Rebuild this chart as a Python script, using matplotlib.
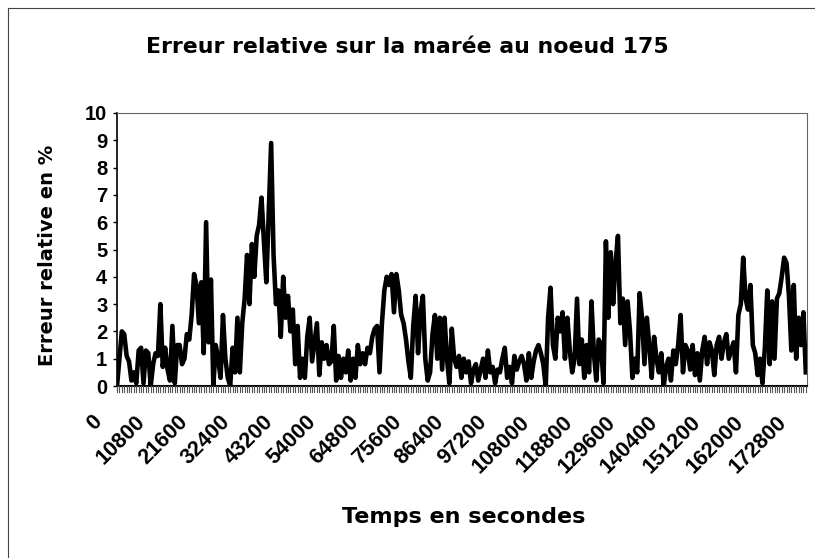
import numpy as np
import matplotlib
matplotlib.use("Agg")
from matplotlib import pyplot as plt
from matplotlib.lines import Line2D
import matplotlib.transforms as mtrans

# relative error (%) on the tide at node 175
erreur = [
    0.0, 1.0, 2.0, 1.9, 1.1,
    0.9, 0.2, 0.5, 0.1, 1.3,
    1.4, 0.1, 1.3, 1.2, 0.0,
    0.8, 1.2, 1.1, 3.0, 0.7,
    1.4, 0.6, 0.2, 2.2, 0.1,
    1.5, 1.5, 0.8, 1.0, 1.9,
    1.7, 2.6, 4.1, 3.7, 2.3,
    3.8, 1.2, 6.0, 1.6, 3.9,
    0.0, 1.5, 1.0, 0.3, 2.6,
    1.0, 0.3, 0.0, 1.4, 0.5,
    2.5, 0.5, 2.3, 3.2, 4.8,
    3.0, 5.2, 4.0, 5.5, 5.9,
    6.9, 5.3, 3.8, 6.4, 8.9,
    4.8, 3.0, 3.5, 1.8, 4.0,
    2.5, 3.3, 2.0, 2.8, 0.8,
    2.2, 0.3, 1.0, 0.3, 1.8,
    2.5, 0.9, 1.6, 2.3, 0.4,
    1.6, 1.0, 1.5, 0.8, 0.9,
    2.2, 0.2, 1.1, 0.3, 1.0,
    0.5, 1.3, 0.2, 1.0, 0.3,
    1.5, 0.8, 1.2, 0.8, 1.4,
    1.2, 1.8, 2.1, 2.2, 0.5,
    2.3, 3.5, 4.0, 3.7, 4.1,
    2.7, 4.1, 3.5, 2.6, 2.3,
    1.7, 0.9, 0.3, 2.2, 3.3,
    1.2, 2.7, 3.3, 1.0, 0.2,
    0.5, 1.9, 2.6, 1.0, 2.5,
    0.6, 2.5, 1.0, 0.1, 2.1,
    1.0, 0.7, 1.1, 0.3, 1.0,
    0.5, 0.9, 0.1, 0.6, 0.8,
    0.2, 0.6, 1.0, 0.3, 1.3,
    0.5, 0.7, 0.1, 0.6, 0.5,
    1.0, 1.4, 0.3, 0.7, 0.1,
    1.1, 0.6, 0.9, 1.1, 0.8,
    0.2, 1.2, 0.3, 0.9, 1.3,
    1.5, 1.2, 0.8, 0.0, 2.5,
    3.6, 1.5, 1.0, 2.5, 2.0,
    2.7, 1.0, 2.5, 1.3, 0.5,
    1.0, 3.2, 0.8, 1.7, 0.3,
    1.5, 0.5, 3.1, 1.2, 0.2,
    1.7, 1.5, 0.1, 5.3, 2.5,
    4.9, 3.0, 4.5, 5.5, 2.3,
    3.2, 1.5, 3.1, 2.0, 0.3,
    1.0, 0.5, 3.4, 2.5, 0.8,
    2.5, 1.5, 0.3, 1.8, 1.0,
    0.5, 1.2, 0.0, 0.7, 1.0,
    0.2, 1.3, 0.8, 1.5, 2.6,
    0.5, 1.5, 1.3, 0.6, 1.5,
    0.4, 1.2, 0.2, 1.3, 1.8,
    0.8, 1.6, 1.3, 0.4, 1.5,
    1.8, 1.0, 1.6, 1.9, 1.0,
    1.3, 1.6, 0.5, 2.6, 3.0,
    4.7, 3.2, 2.8, 3.7, 1.5,
    1.2, 0.4, 1.0, 0.1, 1.4,
    3.5, 0.8, 3.1, 1.0, 3.2,
    3.4, 4.0, 4.7, 4.5, 3.3,
    1.3, 3.7, 1.0, 2.5, 1.5,
    2.7, 0.5,
]
t_fin = 174000          # time of last sample (s)
ticks_temps = list(range(0, 172801, 10800))
ticks_err = list(range(0, 11))

temps = np.linspace(0, t_fin, len(erreur))

FONT = "DejaVu Sans"
TICKFONT = "Liberation Sans"

fig = plt.figure(figsize=(8.15, 5.58), dpi=100)
ax = fig.add_axes([117 / 815, 1 - 386 / 558, 690 / 815, 273 / 558])

ax.plot(temps, erreur, color="black", lw=3.3, solid_joinstyle="round")

ax.set_xlim(0, 174300)
ax.set_ylim(0, 10)
ax.set_yticks(ticks_err)
ax.set_yticklabels([str(v) for v in ticks_err], fontsize=14.5,
                   fontweight="bold", family=TICKFONT)
ax.tick_params(axis="y", length=3, width=1, pad=4)

# category-style x axis: one small tick per sample, labels every 10800 s
ax.set_xticks([])
for t in temps:
    ax.add_line(Line2D([t, t], [-0.22, 0], color="#555555", lw=0.8,
                       clip_on=False, zorder=3))

# excel puts the end of the rotated label left of and below the tick
shift = mtrans.ScaledTranslation(-18 / 100, -33 / 100, fig.dpi_scale_trans)
for t in ticks_temps:
    ax.text(t, 0, str(t), transform=ax.get_xaxis_transform() + shift,
            rotation=45, ha="right", va="center", rotation_mode="anchor",
            fontsize=15.5, fontweight="bold", family=TICKFONT)

for side in ["top", "right"]:
    ax.spines[side].set_linestyle((0, (1, 1)))
    ax.spines[side].set_color("#666666")
    ax.spines[side].set_linewidth(0.8)
ax.spines["left"].set_linewidth(1.2)
ax.spines["bottom"].set_linewidth(1.5)

fig.text(407 / 815, 1 - 47 / 558, "Erreur relative sur la marée au noeud 175",
         ha="center", va="center", fontsize=15.8, fontweight="bold", family=FONT)
fig.text(48 / 815, 1 - 255 / 558, "Erreur relative en %", rotation=90,
         ha="center", va="center", fontsize=14, fontweight="bold", family=FONT)
fig.text(464 / 815, 1 - 517 / 558, "Temps en secondes",
         ha="center", va="center", fontsize=16, fontweight="bold", family=FONT)

# chart area frame (top and left edges visible in the scan)
fig.add_artist(Line2D([8 / 815, 1], [1 - 8 / 558, 1 - 8 / 558], color="#444444", lw=0.8))
fig.add_artist(Line2D([8 / 815, 8 / 815], [0, 1 - 8 / 558], color="#444444", lw=0.8))

fig.savefig("out.png", dpi=100)
